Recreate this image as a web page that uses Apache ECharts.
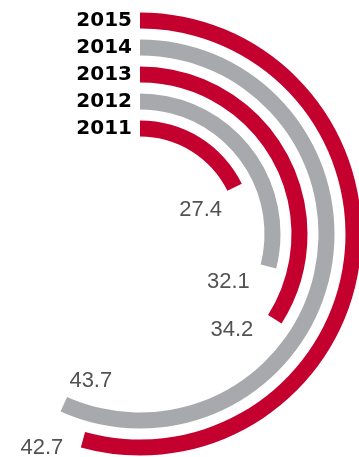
<!DOCTYPE html>
<html>
<head>
<meta charset="utf-8">
<script src="https://cdn.jsdelivr.net/npm/echarts@6/dist/echarts.min.js"></script>
<style>
html,body{margin:0;padding:0;background:#fff;}
#chart{width:359px;height:457px;}
</style>
</head>
<body>
<div id="chart"></div>
<script>
var years = ['2011', '2012', '2013', '2014', '2015'];
var values = [27.4, 32.1, 34.2, 43.7, 42.7];
var barColors = ['#c4002f', '#a7a9ac', '#c4002f', '#a7a9ac', '#c4002f'];
var labelOffsets = [[-34, 23], [-40, 15], [-43, 11], [27, -23], [-41, 8]];
var angleMin = 20, angleMax = 61.8;
var ringWidth = 16;

var chart = echarts.init(document.getElementById('chart'));
chart.setOption({
  animation: false,
  polar: { center: [140, 234], radius: [92, 227] },
  angleAxis: {
    type: 'value', min: angleMin, max: angleMax, startAngle: 90, clockwise: true,
    axisLine: { show: false }, axisTick: { show: false },
    axisLabel: { show: false }, splitLine: { show: false }
  },
  radiusAxis: {
    type: 'category', data: years, z: 10,
    axisLine: { show: false }, axisTick: { show: false }, splitLine: { show: false },
    axisLabel: { interval: 0, fontFamily: 'DejaVu Sans', fontWeight: 'bold', fontSize: 20, color: '#000', margin: 8 }
  },
  series: [
    {
      type: 'custom', coordinateSystem: 'polar',
      encode: { radius: 0, angle: 1 },
      data: values.map(function (v, i) { return [i, v]; }),
      renderItem: function (params, api) {
        var i = api.value(0), v = api.value(1);
        var cs = params.coordSys;
        var cx = cs.cx, cy = cs.cy;
        var p0 = api.coord([i, angleMin]);
        var p1 = api.coord([i, v]);
        var rMid = Math.sqrt((p0[0] - cx) * (p0[0] - cx) + (p0[1] - cy) * (p0[1] - cy));
        var a0 = Math.atan2(p0[1] - cy, p0[0] - cx);
        var a1 = Math.atan2(p1[1] - cy, p1[0] - cx);
        while (a1 <= a0) a1 += Math.PI * 2;
        return {
          type: 'sector',
          shape: { cx: cx, cy: cy, r0: rMid - ringWidth / 2, r: rMid + ringWidth / 2,
                   startAngle: a0, endAngle: a1, clockwise: true },
          style: { fill: barColors[i] }
        };
      }
    },
    {
      type: 'scatter', coordinateSystem: 'polar', symbolSize: 0, silent: true,
      data: values.map(function (v, i) {
        return {
          value: [i, v],
          label: { show: true, offset: labelOffsets[i], position: 'inside',
            formatter: String(v), fontFamily: 'Liberation Sans', fontSize: 22, color: '#262626' }
        };
      })
    }
  ]
});
</script>
</body>
</html>
